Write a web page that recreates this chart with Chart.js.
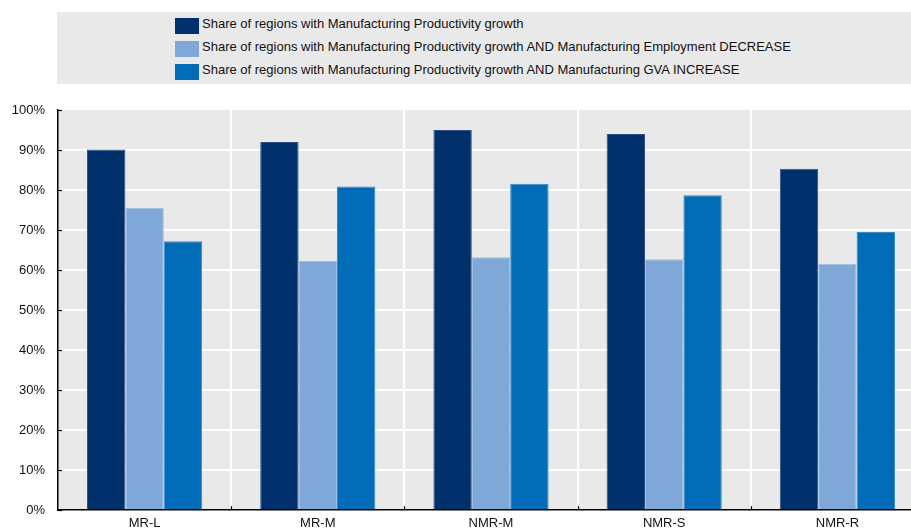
<!DOCTYPE html>
<html>
<head>
<meta charset="utf-8">
<script src="https://cdn.jsdelivr.net/npm/chart.js@4/dist/chart.umd.min.js"></script>
<style>
  html, body { margin: 0; padding: 0; background: #fff; overflow: hidden; }
  #wrap { position: relative; width: 926px; height: 531px; }
  #legend {
    position: absolute; left: 57px; top: 12px; width: 869px; height: 72px;
    background: #e9e9e9; font-family: "Liberation Sans", Arial, sans-serif;
    font-size: 13px; color: #111;
  }
  .item { position: absolute; left: 118px; height: 16px; line-height: 16px; white-space: nowrap; }
  .item span.box { position: absolute; left: 0; top: 0; width: 24px; height: 16px; }
  .item span.txt { position: absolute; left: 27px; top: -2px; }
</style>
</head>
<body>
<div id="wrap">
  <div id="legend"></div>
  <canvas id="chart" width="926" height="531"></canvas>
</div>
<script>
var categories = ['MR-L', 'MR-M', 'NMR-M', 'NMR-S', 'NMR-R']
var seriesNames = [
  'Share of regions with Manufacturing Productivity growth',
  'Share of regions with Manufacturing Productivity growth AND Manufacturing Employment DECREASE',
  'Share of regions with Manufacturing Productivity growth AND Manufacturing GVA INCREASE',
]
var productivityGrowth = [90.1, 92.0, 95.0, 94.0, 85.3]
var employmentDecrease = [75.6, 62.3, 63.2, 62.7, 61.6]
var gvaIncrease = [67.2, 80.9, 81.6, 78.7, 69.5]
var yTicks = [0, 10, 20, 30, 40, 50, 60, 70, 80, 90, 100]

var fills = ['#00306b', '#7fa8d9', '#006bb6']
var edges = ['#2d5188', '#9dbde4', '#3a8aca']
var values = [productivityGrowth, employmentDecrease, gvaIncrease]

// legend as html, one row per series
var legend = document.getElementById('legend')
seriesNames.forEach(function (name, i) {
  var row = document.createElement('div')
  row.className = 'item'
  row.style.top = (6 + i * 22.8) + 'px'
  row.innerHTML = '<span class="box" style="background:' + fills[i] + '"></span><span class="txt"></span>'
  row.querySelector('.txt').textContent = name
  legend.appendChild(row)
})

// grey plot background
var plotBackground = {
  id: 'plotBackground',
  beforeDraw: function (chart) {
    var a = chart.chartArea
    var c = chart.ctx
    c.save()
    c.fillStyle = '#e9e9e9'
    c.fillRect(a.left, a.top, a.right - a.left, a.bottom - a.top)
    c.restore()
  },
}

// short tick marks pointing into the plot
var innerTicks = {
  id: 'innerTicks',
  afterDraw: function (chart) {
    var c = chart.ctx
    var x = chart.scales.x
    var y = chart.scales.y
    c.save()
    c.strokeStyle = '#000'
    c.lineWidth = 1.2
    y.ticks.forEach(function (t, i) {
      var py = Math.round(y.getPixelForTick(i)) + 0.5
      c.beginPath()
      c.moveTo(y.right, py)
      c.lineTo(y.right + 4, py)
      c.stroke()
    })
    for (var i = 1; i < categories.length; i++) {
      var px = Math.round((x.getPixelForTick(i - 1) + x.getPixelForTick(i)) / 2) + 0.5
      c.beginPath()
      c.moveTo(px, x.top)
      c.lineTo(px, x.top - 4)
      c.stroke()
    }
    c.restore()
  },
}

var ctx = document.getElementById('chart').getContext('2d')
var myChart = new Chart(ctx, {
  type: 'bar',
  data: {
    labels: categories,
    datasets: seriesNames.map(function (name, i) {
      return {
        label: name,
        data: values[i],
        backgroundColor: fills[i],
        borderColor: edges[i],
        borderWidth: { top: 1, left: 1, right: 1, bottom: 0 },
        categoryPercentage: 0.665,
        barPercentage: 1,
      }
    }),
  },
  options: {
    responsive: false,
    animation: false,
    layout: { padding: { top: 110, right: 2, left: 0, bottom: 0 } },
    plugins: {
      legend: { display: false },
      tooltip: { enabled: false },
    },
    scales: {
      x: {
        offset: true,
        grid: {
          offset: true,
          color: function (c) { return c.index === 0 ? 'rgba(0,0,0,0)' : '#ffffff' },
          lineWidth: 2,
          drawTicks: false,
        },
        border: { color: '#000', width: 1.5 },
        ticks: {
          color: '#111',
          padding: 5,
          font: { family: '"Liberation Sans", Arial, sans-serif', size: 13 },
        },
        afterFit: function (scale) { scale.height = 20 },
      },
      y: {
        min: 0,
        max: 100,
        afterBuildTicks: function (scale) {
          scale.ticks = yTicks.map(function (v) { return { value: v } })
        },
        grid: {
          color: function (c) { return c.tick && c.tick.value === 100 ? 'rgba(0,0,0,0)' : '#ffffff' },
          lineWidth: 2,
          drawTicks: false,
        },
        border: { color: '#000', width: 1.5 },
        ticks: {
          color: '#111',
          padding: 13,
          font: { family: '"Liberation Sans", Arial, sans-serif', size: 13 },
          callback: function (v) { return v + '%' },
        },
        afterFit: function (scale) { scale.width = 58 },
      },
    },
  },
  plugins: [plotBackground, innerTicks],
})
</script>
</body>
</html>
